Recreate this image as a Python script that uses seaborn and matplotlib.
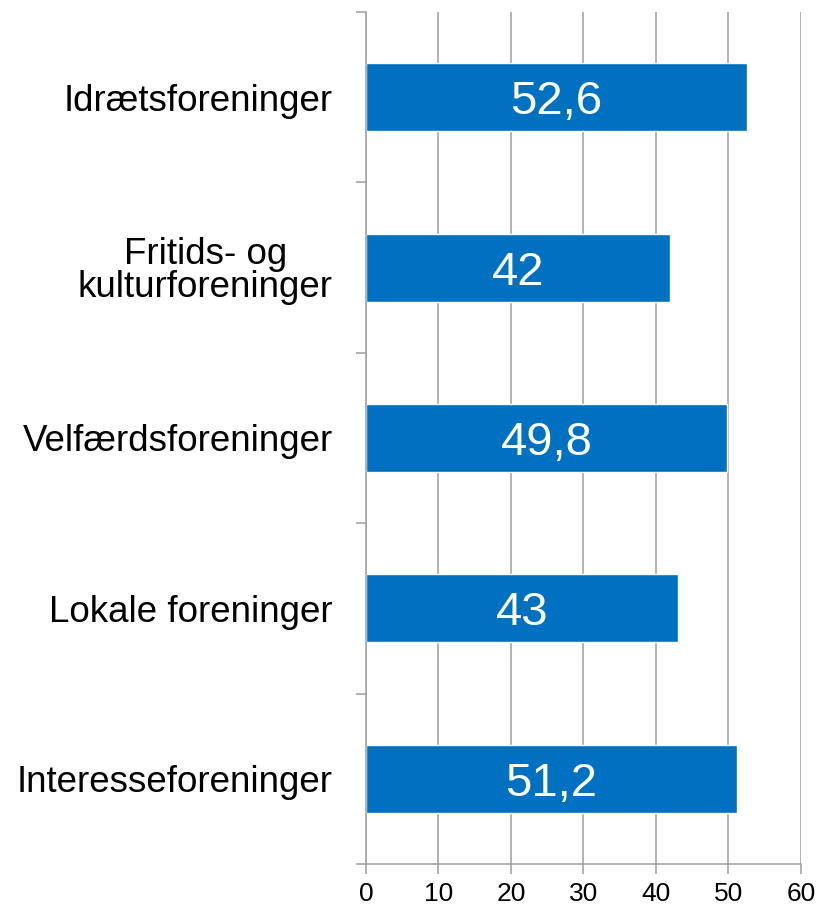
import pandas as pd
import seaborn as sns
import matplotlib.pyplot as plt

categories = ['Idrætsforeninger', 'Fritids- og\nkulturforeninger', 'Velfærdsforeninger',
              'Lokale foreninger', 'Interesseforeninger']
values = [52.6, 42, 49.8, 43, 51.2]
x_ticks = [0, 10, 20, 30, 40, 50, 60]

df = pd.DataFrame({'forening': categories, 'andel': values})

sns.set_style('white')
plt.rcParams['font.family'] = ['Liberation Sans', 'DejaVu Sans']
plt.rcParams['text.color'] = 'black'
plt.rcParams['xtick.labelcolor'] = 'black'
plt.rcParams['ytick.labelcolor'] = 'black'

fig = plt.figure(figsize=(8.18, 9.07), dpi=100)
ax = fig.add_axes([0.4474, 0.0474, 0.979 - 0.4474, 0.9868 - 0.0474])

sns.barplot(data=df, y='forening', x='andel', orient='h', color='#0070C0',
            width=0.4, saturation=1, ax=ax)

# value labels inside the bars, with decimal comma
for i, v in enumerate(values):
    txt = f'{v:g}'.replace('.', ',')
    ax.text(v / 2, i, txt, color='white', fontsize=34, ha='center', va='center_baseline')

ax.set_xlim(0, 60)
ax.set_ylim(len(categories) - 0.5, -0.5)
ax.set_xticks(x_ticks)
ax.set_xticklabels([str(t) for t in x_ticks])
ax.set_xlabel('')
ax.set_ylabel('')

gray = '#A6A6A6'
ax.xaxis.grid(True, color=gray, linewidth=1.2)
ax.yaxis.grid(False)
ax.set_axisbelow(True)

for side in ['top', 'right']:
    ax.spines[side].set_visible(False)
for side in ['left', 'bottom']:
    ax.spines[side].set_color(gray)
    ax.spines[side].set_linewidth(1.2)

# tick marks between the categories on the y axis
ax.set_yticks([i - 0.5 for i in range(len(categories) + 1)], minor=True)
ax.tick_params(axis='y', which='minor', left=True, length=7, width=1.2, color=gray)
ax.tick_params(axis='y', which='major', left=True, length=0, pad=24, labelsize=26.5)
ax.tick_params(axis='x', bottom=True, length=7, width=1.2, color=gray, pad=6, labelsize=19)

for t in ax.get_yticklabels():
    t.set_multialignment('center')
    t.set_linespacing(0.95)

fig.savefig('out.png', dpi=100)
